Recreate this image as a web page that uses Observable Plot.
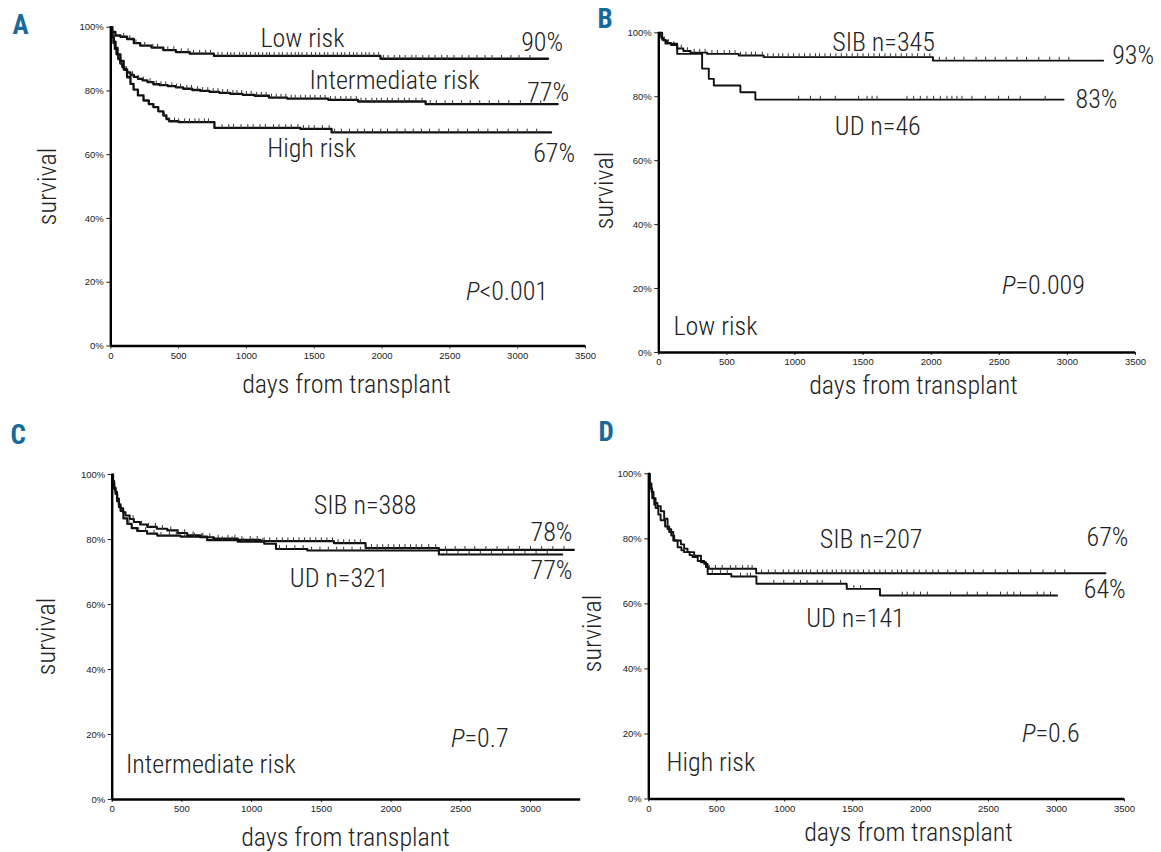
<!DOCTYPE html>
<html><head><meta charset="utf-8">
<script src="https://cdn.jsdelivr.net/npm/d3@7"></script>
<script src="https://cdn.jsdelivr.net/npm/@observablehq/plot@0.6"></script>
<style>
html,body{margin:0;padding:0;background:#fff;}
#fig{position:relative;width:1161px;height:852px;overflow:hidden;background:#fff;}
#fig > div{position:absolute;}
#fig svg{overflow:visible;display:block;}
</style></head><body><div id="fig"></div>
<script>
// ---------- tick labels ----------
const xTicksFull = [0, 500, 1000, 1500, 2000, 2500, 3000, 3500];
const xTicksC = [0, 500, 1000, 1500, 2000, 2500, 3000];
const yTicks = [0, 20, 40, 60, 80, 100];

// ---------- survival curves: [day, survival %] (step-after) ----------
const aLow = [[0,100],[12,98.5],[34,97.4],[70,97],[120,96.3],[170,95],[217,94.2],[300,93.6],[387,92.8],[480,92.2],[582,91.7],[760,91.0],[1988,90.1],[3224,90.1]];
const aInt = [[0,100],[5,98.5],[12,97],[20,95],[30,93.2],[42,91.5],[55,90],[70,88.6],[85,87.5],[100,86.6],[120,85.8],[145,85],[170,84.4],[200,83.8],[235,83.3],[270,82.8],[314,82.1],[360,81.8],[420,81.5],[480,81.1],[533,80.7],[600,80.3],[660,80.0],[728,79.7],[800,79.4],[880,79.1],[971,78.8],[1060,78.5],[1166,77.9],[1300,77.6],[1604,77.2],[1823,76.7],[2321,75.9],[3295,75.9]];
const aHigh = [[0,100],[5,98.5],[12,97],[22,95.5],[35,93.5],[50,91.5],[71,89.4],[95,86.8],[120,84.3],[145,82.2],[168,80.4],[200,78.6],[241,77],[280,75.9],[314,74.9],[350,73.6],[387,72.3],[410,71.2],[430,70.5],[500,70.2],[764,68.4],[1397,68.1],[1628,67.0],[3246,67.0]];

const bSib = [[0,100],[8,99.2],[18,98.4],[37,97.6],[60,96.8],[90,96.2],[135,95.1],[180,94.3],[233,93.8],[355,93.4],[587,92.9],[770,92.4],[2013,91.3],[3263,91.3]];
const bUd = [[0,100],[25,97.8],[49,96.6],[135,93.4],[318,88.8],[367,85.6],[404,83.5],[599,81.4],[709,79.1],[2972,79.1]];

const cSib = [[0,100],[6,98],[14,96],[24,94.6],[35,92.6],[48,90.8],[60,89.6],[78,88.4],[95,87.4],[125,86.3],[155,85.4],[200,84.6],[251,83.9],[320,83.3],[395,82.8],[470,82],[538,81.3],[630,80.7],[729,80.3],[900,79.9],[1064,79.5],[1590,78.9],[1817,77.4],[2343,76.8],[3311,76.8]];
const cUd = [[0,100],[6,97.5],[14,95.5],[24,94],[35,91.8],[48,90],[60,88.8],[80,86.5],[108,84.8],[140,83.5],[179,82.6],[250,81.8],[323,81.2],[490,80.9],[681,79.8],[900,79.3],[1090,78.7],[1175,77.1],[1399,76.6],[2343,75.4],[3228,75.4]];

const dSib = [[0,100],[8,97],[20,94.5],[35,92.5],[50,91],[64,90],[88,88.5],[113,86.2],[138,83],[165,81],[187,79.5],[236,78.3],[260,77],[285,75.9],[334,74.8],[384,72.8],[421,71.3],[440,70.8],[790,69.4],[3360,69.4]];
const dUd = [[0,100],[6,97],[12,95.5],[25,92.5],[40,90.5],[50,89.5],[70,87.5],[87,85.7],[120,83.8],[150,82.1],[180,79.5],[212,77.4],[240,76.5],[260,75.9],[300,75],[322,74.4],[360,73.2],[408,72.3],[433,69.2],[607,68.4],[792,66.2],[1456,64.6],[1701,62.6],[3004,62.6]];

// ---------- censoring times (days) ----------
const aLowCens = [95,140,185,250,310,345,420,465,520,570,610,655,700,735,790,820,860,885,910,950,975,1000,1030,1065,1090,1120,1150,1170,1205,1240,1265,1300,1330,1360,1385,1410,1445,1480,1510,1540,1575,1600,1640,1670,1700,1725,1760,1790,1815,1850,1880,1905,1940,1975,2010,2045,2090,2130,2170,2220,2250,2300,2345,2390,2440,2480,2530,2590,2640,2700,2760,2810,2880,2950,3010,3090];
const aIntCens = [70,115,160,205,240,290,335,370,405,450,485,515,560,595,640,675,715,755,790,825,860,900,930,965,1000,1035,1075,1110,1145,1185,1220,1255,1290,1330,1360,1400,1435,1470,1505,1545,1580,1620,1655,1695,1735,1770,1810,1845,1880,1925,1960,1995,2040,2075,2120,2165,2200,2250,2295,2355,2400,2465,2520,2585,2650,2720,2790,2860,2935,3020,3100,3170];
const aHighCens = [395,430,470,500,545,580,620,650,690,720,820,870,905,960,1010,1050,1100,1140,1200,1240,1290,1330,1380,1420,1460,1500,1560,1610,1650,1700,1760,1820,1870,1930,1990,2040,2110,2170,2230,2290,2350,2420,2490,2560,2630,2710,2780,2850,2930,3000,3070,3140];
const bSibCens = [40,70,110,165,210,260,300,340,390,430,480,520,560,600,640,680,710,760,800,840,880,910,950,990,1030,1070,1110,1150,1180,1220,1260,1300,1340,1380,1420,1460,1500,1540,1580,1620,1660,1700,1740,1780,1820,1860,1900,1950,1990,2060,2110,2170,2240,2330,2400,2470,2550,2630,2700,2790,2870,2940,3010];
const bUdCens = [1027,1113,1186,1296,1467,1529,1566,1602,1822,1871,1920,1969,2018,2067,2116,2152,2189,2226,2299,2397,2495,2568,2654,2837];
const cSibCens = [150,210,260,310,360,420,470,520,580,640,700,760,830,880,930,990,1040,1090,1130,1180,1220,1260,1300,1340,1380,1420,1460,1500,1540,1580,1620,1660,1700,1740,1780,1820,1860,1900,1940,1980,2020,2060,2100,2140,2180,2220,2270,2320,2390,2460,2530,2600,2680,2760,2840,2920,3000,3080,3160,3240];
const cUdCens = [120,190,240,300,350,410,460,520,590,650,720,790,860,940,1010,1080,1200,1250,1310,1370,1430,1490,1550,1610,1660,1720,1780,1840,1900,1960,2020,2080,2140,2200,2280,2400,2480,2560,2640,2720,2800,2880,2960,3040,3120];
const dSibCens = [445,490,540,600,640,690,730,760,830,880,930,990,1030,1070,1100,1130,1160,1190,1240,1280,1310,1350,1380,1420,1450,1480,1510,1540,1580,1620,1660,1700,1740,1790,1830,1860,1900,1950,1990,2040,2090,2130,2200,2260,2330,2390,2460,2550,2640,2720,2810,2900,2990,3060];
const dUdCens = [467,528,577,675,724,748,920,993,1067,1116,1165,1239,1276,1411,1460,1509,1558,1865,1901,1950,1999,2049,2220,2343,2417,2490,2588,2637,2686,2735,2858,2907,2956];

// ---------- text ----------
const panelLetters = ["A", "B", "C", "D"];
const xTitle = "days from transplant";
const yTitle = "survival";
const aLabels = ["Low risk", "90%", "Intermediate risk", "77%", "High risk", "67%"];
const bLabels = ["SIB n=345", "93%", "83%", "UD n=46", "Low risk"];
const cLabels = ["SIB n=388", "78%", "77%", "UD n=321", "Intermediate risk"];
const dLabels = ["SIB n=207", "67%", "64%", "UD n=141", "High risk"];
const pValues = ["<0.001", "=0.009", "=0.7", "=0.6"];

// ---------- rendering ----------
const LABEL_FONT = "'Roboto Condensed','Liberation Sans Narrow','DejaVu Sans Condensed','Arial Narrow',sans-serif";
const TICK_FONT = "'Liberation Sans',Arial,Helvetica,sans-serif";
const BLUE = "#17699a";

function levelAt(curve, t) {
  let s = curve[0][1];
  for (const [d, v] of curve) { if (d <= t) s = v; else break; }
  return s;
}
const censorSymbol = {draw(ctx, size) { const r = Math.sqrt(size / Math.PI); ctx.moveTo(0, 0.5); ctx.lineTo(0, -2 * r); }};

function panel(cfg) {
  const mL = cfg.x0 - cfg.left, mR = cfg.left + cfg.width - cfg.x1;
  const mT = cfg.y0 - cfg.top, mB = cfg.top + cfg.height - cfg.yb;
  const marks = [];
  marks.push(Plot.axisY(yTicks, {anchor: "left", tickSize: 4, tickPadding: 3, tickFormat: d => d + "%", fontSize: 9.5, label: null}));
  marks.push(Plot.axisX(cfg.xTicks, {anchor: "bottom", tickSize: 3, tickPadding: 3, tickFormat: d => String(d), fontSize: 9.5, label: null}));
  for (const c of cfg.curves) {
    marks.push(Plot.line(c.pts, {x: d => d[0], y: d => d[1], curve: "step-after", stroke: "#111", strokeWidth: cfg.sw}));
    marks.push(Plot.dot(c.cens, {x: d => d, y: d => levelAt(c.pts, d), r: 1.9, symbol: censorSymbol, stroke: "#333", strokeWidth: 1, fill: "none"}));
  }
  marks.push(Plot.ruleX([0], {y1: 0, y2: 100, stroke: "#000", strokeWidth: 2.4}));
  marks.push(Plot.ruleY([0], {x1: 0, x2: cfg.xMax, stroke: "#000", strokeWidth: 2.4}));
  const T = (text, px, py, o = {}) => Plot.text([text], {
    frameAnchor: "top-left", dx: px - cfg.x0, dy: py - cfg.y0, text: d => d,
    textAnchor: o.anchor || "start", lineAnchor: "bottom", rotate: o.rotate || 0,
    fontSize: o.size || 26, fontFamily: LABEL_FONT, fontWeight: o.weight || 300,
    fontStyle: o.style || "normal", fill: o.fill || "#222"
  });
  for (const a of cfg.texts) marks.push(T(...a));
  return Plot.plot({
    width: cfg.width, height: cfg.height,
    marginLeft: mL, marginRight: mR, marginTop: mT, marginBottom: mB,
    x: {domain: [0, cfg.xMax], axis: null},
    y: {domain: [0, 100], axis: null},
    style: {background: "transparent", fontFamily: TICK_FONT, color: "#222", overflow: "visible"},
    marks
  });
}

const panels = [
  {left: 0, top: 0, width: 591, height: 410, x0: 110.3, x1: 585, y0: 26.7, yb: 345.5, xMax: 3500, xTicks: xTicksFull, sw: 2.3,
   curves: [{pts: aLow, cens: aLowCens}, {pts: aInt, cens: aIntCens}, {pts: aHigh, cens: aHighCens}],
   texts: [
     [panelLetters[0], 12, 33, {size: 27, weight: 700, fill: BLUE}],
     [aLabels[0], 260, 46.5], [aLabels[1], 520.7, 50], [aLabels[2], 309, 88.3], [aLabels[3], 526.7, 100],
     [aLabels[4], 266.7, 156.7], [aLabels[5], 532.7, 161.7],
     ["P", 479, 299, {anchor: "end", style: "italic"}], [pValues[0], 479, 299],
     [yTitle, 55, 186, {anchor: "middle", rotate: -90}],
     [xTitle, 346, 392, {anchor: "middle"}]
   ]},
  {left: 590, top: 0, width: 571, height: 410, x0: 658.3, x1: 1135, y0: 32.3, yb: 352, xMax: 3500, xTicks: xTicksFull, sw: 1.9,
   curves: [{pts: bSib, cens: bSibCens}, {pts: bUd, cens: bUdCens}],
   texts: [
     [panelLetters[1], 597, 27, {size: 27, weight: 700, fill: BLUE}],
     [bLabels[0], 831.7, 50], [bLabels[1], 1111.7, 63.3], [bLabels[2], 1075, 107.3], [bLabels[3], 834.3, 134],
     ["P", 1015, 293, {anchor: "end", style: "italic"}], [pValues[1], 1015, 293],
     [bLabels[4], 673, 334],
     [yTitle, 612, 190, {anchor: "middle", rotate: -90}],
     [xTitle, 913, 393, {anchor: "middle"}]
   ]},
  {left: 0, top: 418, width: 591, height: 434, x0: 111.7, x1: 580.2, y0: 474, yb: 799, xMax: 3360, xTicks: xTicksC, sw: 2.1,
   curves: [{pts: cSib, cens: cSibCens}, {pts: cUd, cens: cUdCens}],
   texts: [
     [panelLetters[2], 10, 443, {size: 27, weight: 700, fill: BLUE}],
     [cLabels[0], 313.3, 513.3], [cLabels[1], 530, 540], [cLabels[2], 530, 578.3], [cLabels[3], 289.3, 586],
     ["P", 464, 746, {anchor: "end", style: "italic"}], [pValues[2], 464, 746],
     [cLabels[4], 125.4, 772],
     [yTitle, 55, 636, {anchor: "middle", rotate: -90}],
     [xTitle, 345, 845, {anchor: "middle"}]
   ]},
  {left: 590, top: 418, width: 571, height: 434, x0: 648.3, x1: 1124, y0: 473.3, yb: 798.5, xMax: 3500, xTicks: xTicksFull, sw: 1.9,
   curves: [{pts: dSib, cens: dSibCens}, {pts: dUd, cens: dUdCens}],
   texts: [
     [panelLetters[3], 598, 440, {size: 27, weight: 700, fill: BLUE}],
     [dLabels[0], 819.3, 547.3], [dLabels[1], 1086, 545], [dLabels[2], 1083.3, 597.7], [dLabels[3], 805.7, 626.7],
     ["P", 1035, 741, {anchor: "end", style: "italic"}], [pValues[3], 1035, 741],
     [dLabels[4], 666, 770],
     [yTitle, 600, 633, {anchor: "middle", rotate: -90}],
     [xTitle, 908, 840, {anchor: "middle"}]
   ]}
];

const fig = document.getElementById("fig");
for (const cfg of panels) {
  const div = document.createElement("div");
  div.style.left = cfg.left + "px"; div.style.top = cfg.top + "px";
  div.style.width = cfg.width + "px"; div.style.height = cfg.height + "px";
  div.appendChild(panel(cfg));
  fig.appendChild(div);
}
</script></body></html>
